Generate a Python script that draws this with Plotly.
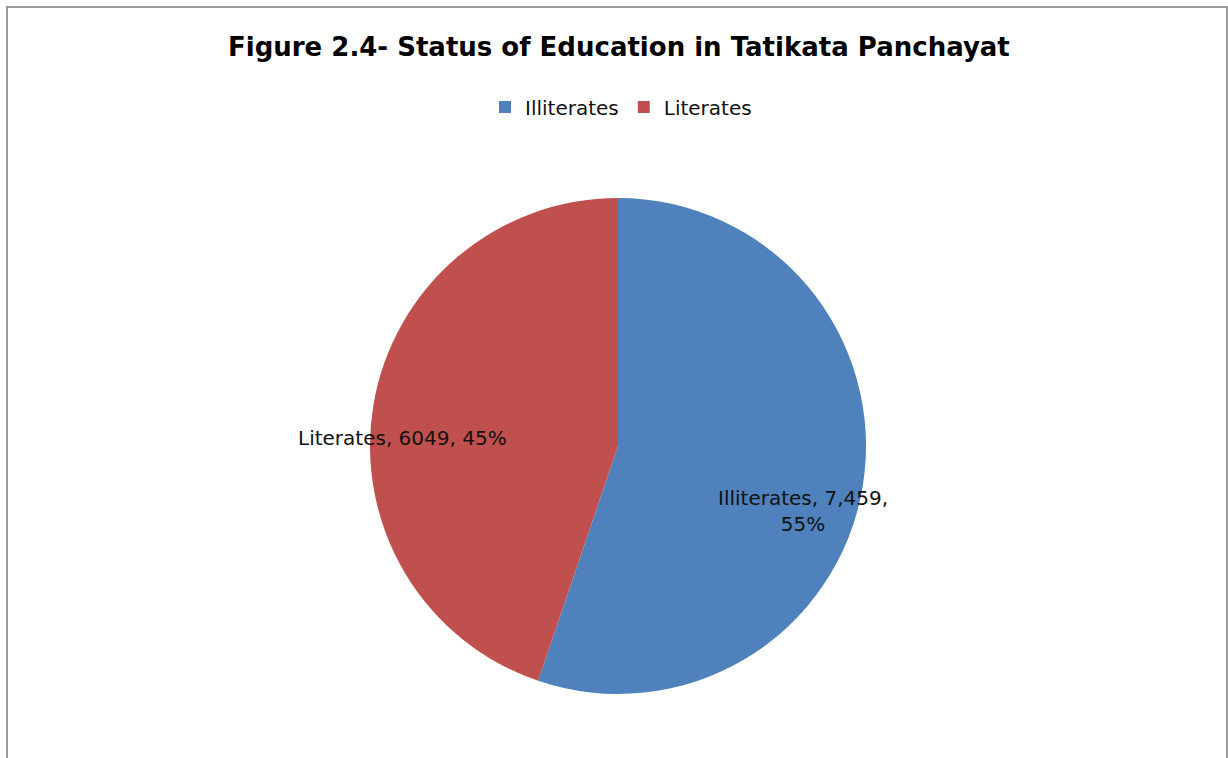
import plotly.graph_objects as go

# Education status counts for Tatikata Panchayat
categories = ["Illiterates", "Literates"]
counts = [7459, 6049]
count_labels = ["7,459", "6049"]
colors = ["#4F81BD", "#C0504D"]

W, H = 1228, 758
total = sum(counts)
pcts = [round(100 * c / total) for c in counts]

fig = go.Figure()
fig.add_trace(go.Pie(
    labels=categories,
    values=counts,
    sort=False,
    direction="clockwise",
    rotation=0,
    marker=dict(colors=colors, line=dict(width=0)),
    textinfo="none",
    hoverinfo="label+value+percent",
    domain=dict(x=[370 / W, 866 / W], y=[1 - 694 / H, 1 - 198 / H]),
    showlegend=True,
))

label_font = dict(family="DejaVu Sans", size=20, color="#111111")
# Data labels: name, count, percent
fig.add_annotation(
    x=803 / W, y=1 - 511 / H, xref="paper", yref="paper",
    xanchor="center", yanchor="middle",
    text=f"{categories[0]}, {count_labels[0]},<br>{pcts[0]}%",
    showarrow=False, font=label_font, align="center",
)
fig.add_annotation(
    x=402 / W, y=1 - 438 / H, xref="paper", yref="paper",
    xanchor="center", yanchor="middle",
    text=f"{categories[1]}, {count_labels[1]}, {pcts[1]}%",
    showarrow=False, font=label_font, align="center",
)

# Title
fig.add_annotation(
    x=619 / W, y=1 - 47 / H, xref="paper", yref="paper",
    xanchor="center", yanchor="middle",
    text="<b>Figure 2.4- Status of Education in Tatikata Panchayat</b>",
    showarrow=False, font=dict(family="DejaVu Sans", size=26, color="#000000"),
)

# Chart frame
fig.add_shape(
    type="rect", xref="paper", yref="paper",
    x0=7 / W, x1=1227 / W, y0=-0.02, y1=1 - 7 / H,
    line=dict(color="#9a9a9a", width=2), fillcolor="rgba(0,0,0,0)",
)

fig.update_layout(
    width=W, height=H,
    margin=dict(l=0, r=0, t=0, b=0),
    paper_bgcolor="white",
    plot_bgcolor="white",
    legend=dict(
        orientation="h",
        x=621 / W, xanchor="center",
        y=1 - 107 / H, yanchor="middle",
        font=dict(family="DejaVu Sans", size=20, color="#111111"),
        itemwidth=30,
        tracegroupgap=0,
    ),
)

fig.write_html("out.html")
